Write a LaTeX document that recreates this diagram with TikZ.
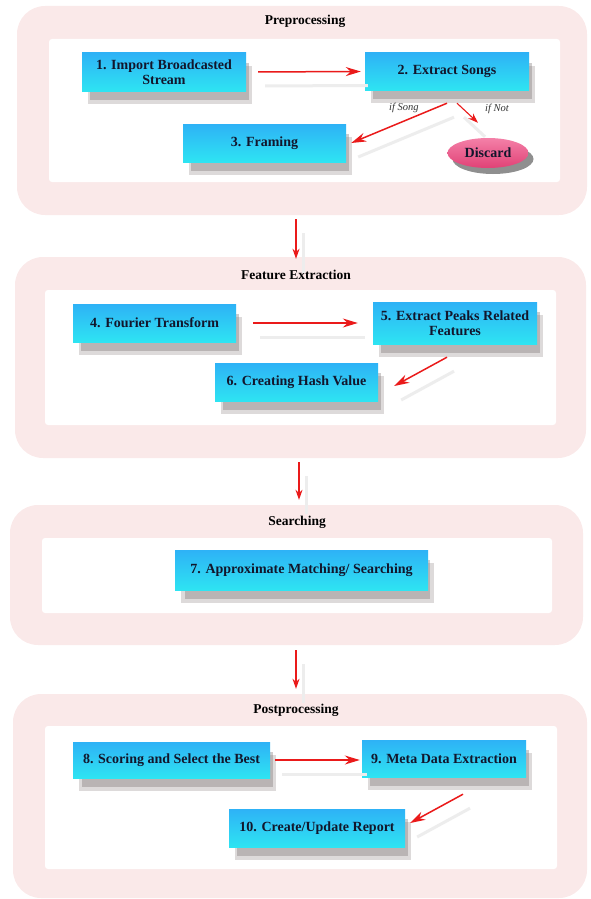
\documentclass[tikz,border=0pt]{standalone}
\usepackage{fontspec}
\setmainfont{Liberation Serif}
\usepackage{tikz}
\usetikzlibrary{arrows.meta,positioning,calc,shadows,shapes.geometric}
\definecolor{framepink}{RGB}{250, 233, 233}
\definecolor{boxtop}{RGB}{46, 178, 246}
\definecolor{boxbottom}{RGB}{46, 228, 242}
\definecolor{arrowred}{RGB}{234, 26, 26}
\definecolor{textnavy}{RGB}{18, 22, 44}
\definecolor{shadowgray}{RGB}{120, 110, 110}
\definecolor{discardtop}{RGB}{244, 128, 168}
\definecolor{discardpink}{RGB}{224, 66, 118}

\tikzset{
    groupframe/.style={fill=framepink, rounded corners=28pt, inner sep=0pt},
    grouptitle/.style={font=\fontsize{13.5}{15}\selectfont\bfseries, text=black},
    softshadow/.style={
        general shadow={fill=shadowgray, opacity=0.25, shadow xshift=6pt, shadow yshift=-13pt},
        general shadow={fill=shadowgray, opacity=0.35, shadow xshift=6pt, shadow yshift=-10pt, shadow scale=0.97}},
    taskbox/.style={top color=boxtop, bottom color=boxbottom, text=textnavy, align=center,
        inner sep=0pt, font=\fontsize{14}{15.5}\selectfont\bfseries, softshadow},
    discardnode/.style={ellipse, top color=discardtop, bottom color=discardpink, text=textnavy,
        inner sep=0pt, font=\fontsize{14}{15.5}\selectfont\bfseries,
        general shadow={fill=black!80, opacity=0.55, shadow xshift=5pt, shadow yshift=-6pt}},
    branchlabel/.style={font=\fontsize{10.5}{12}\selectfont\itshape, text=black!80},
    flow/.style={-{Stealth[length=15pt,width=9pt]}, draw=arrowred, line width=1.5pt,
        preaction={draw=black!7, line width=3pt, -, transform canvas={shift={(7pt,-14pt)}}}},
    smallflow/.style={flow, -{Stealth[length=10pt,width=7pt]}, line width=1.2pt}
}

\begin{document}
\begin{tikzpicture}[x=1pt, y=-1pt]
    \useasboundingbox (0,0) rectangle (591,899);

    % Preprocessing
    \node[groupframe, minimum width=570pt, minimum height=209pt] (prep) at (302,110.5) {};
    \fill[white, rounded corners=3pt] (49,39) rectangle (560,182);
    \node[grouptitle] (preptitle) at (305,21) {Preprocessing};
    \node[taskbox, minimum width=164pt, minimum height=38pt] (import) at (164,72) {1. Import Broadcasted\\Stream};
    \node[taskbox, minimum width=164pt, minimum height=37pt] (extract) at (447,71.5) {2. Extract Songs};
    \node[taskbox, minimum width=163pt, minimum height=38pt] (framing) at (264.5,143) {3. Framing};
    \node[discardnode, minimum width=81pt, minimum height=30pt] (discard) at (488,153) {Discard};

    \draw[flow, shorten <=12pt, shorten >=4pt] (import.east) -- (extract.west);
    \draw[flow] ([yshift=-13pt]extract.south) -- ([xshift=5pt]framing.east)
        node[branchlabel, pos=0.45, above=4pt] {if Song};
    \draw[smallflow, line width=1.1pt] ([xshift=10pt,yshift=-13pt]extract.south) -- ([xshift=-10pt,yshift=15pt]discard.north)
        node[branchlabel, pos=0.3, right=18pt] {if Not};

    % Feature Extraction
    \node[groupframe, minimum width=571pt, minimum height=201pt] (feat) at (300.5,357.5) {};
    \fill[white, rounded corners=3pt] (45,290) rectangle (556,425);
    \node[grouptitle] (feattitle) at (296,275) {Feature Extraction};
    \node[taskbox, minimum width=163pt, minimum height=38pt] (fourier) at (154.5,323) {4. Fourier Transform};
    \node[taskbox, minimum width=164pt, minimum height=42pt] (peaks) at (455,323) {5. Extract Peaks Related\\Features};
    \node[taskbox, minimum width=163pt, minimum height=38pt] (hash) at (296.5,382) {6. Creating Hash Value};

    \draw[flow, shorten <=17pt, shorten >=15pt] (fourier.east) -- (peaks.west);
    \draw[flow] ([xshift=-8pt,yshift=-13pt]peaks.south) -- ([xshift=16pt,yshift=-4pt]hash.east);

    % Searching
    \node[groupframe, minimum width=573pt, minimum height=140pt] (search) at (296.5,575) {};
    \fill[white, rounded corners=3pt] (42,538) rectangle (552,613);
    \node[grouptitle] (searchtitle) at (297,522) {Searching};
    \node[taskbox, minimum width=253pt, minimum height=40pt] (matching) at (301.5,570) {7. Approximate Matching/ Searching};

    % Postprocessing
    \node[groupframe, minimum width=574pt, minimum height=204pt] (post) at (300,796) {};
    \fill[white, rounded corners=3pt] (45,726) rectangle (557,869);
    \node[grouptitle] (posttitle) at (296,710) {Postprocessing};
    \node[taskbox, minimum width=197pt, minimum height=36pt] (scoring) at (171.5,760) {8. Scoring and Select the Best};
    \node[taskbox, minimum width=164pt, minimum height=37pt] (meta) at (444,758.5) {9. Meta Data Extraction};
    \node[taskbox, minimum width=176pt, minimum height=38pt] (report) at (317,828) {10. Create/Update Report};

    \draw[flow, shorten <=5pt, shorten >=2pt] (scoring.east) -- (meta.west |- scoring.east);
    \draw[flow] ([xshift=19pt,yshift=-17pt]meta.south) -- ([xshift=5pt,yshift=5pt]report.east);

    % Stage to stage
    \draw[smallflow, shorten <=4pt, shorten >=-2pt] (prep.south -| feattitle) -- (feat.north -| feattitle);
    \draw[smallflow, shorten <=4pt, shorten >=5pt] ([xshift=2pt]feat.south -| searchtitle) -- ([xshift=2pt]search.north -| searchtitle);
    \draw[smallflow, shorten <=5pt, shorten >=5pt] (search.south -| posttitle) -- (post.north -| posttitle);
\end{tikzpicture}
\end{document}
